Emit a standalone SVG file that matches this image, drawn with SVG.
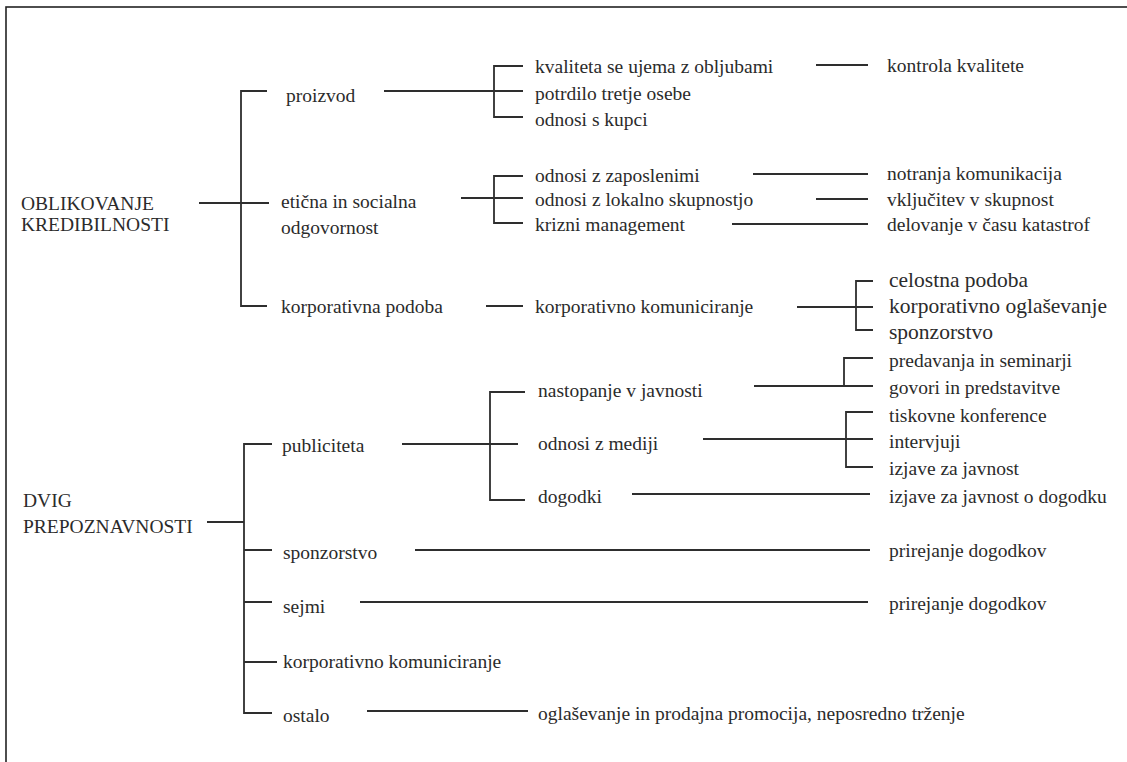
<svg xmlns="http://www.w3.org/2000/svg" width="1127" height="762" viewBox="0 0 1127 762">
<style>
text{font-family:"Liberation Serif","Times New Roman",serif;font-size:19.5px;fill:#2b2b2b}
.big{font-size:21.5px}
.ln{fill:none;stroke:#2e2e2e;stroke-width:1.8}
</style>
<rect x="0" y="0" width="1127" height="762" fill="#fff"/>
<rect x="6" y="7" width="1140" height="780" fill="none" stroke="#222" stroke-width="1.6"/>
<g id="connectors" class="ln">
<path d="M199,203H269M267,91H241V306H267"/>
<path d="M384,91H523M523,66H494V117H523"/>
<path d="M461,198H523M523,176H494V223H523"/>
<path d="M486,306H523"/>
<path d="M816,65H868M753,174H868M816,199H868M732,224H868"/>
<path d="M797,307H873M873,281H856V330H873"/>
<path d="M207,522H244M272,444H244V713H272M244,550H272M244,602H272M244,662H277"/>
<path d="M402,444H518M525,392H490V500H525"/>
<path d="M754,386H873M873,358H844V386"/>
<path d="M703,439H873M873,412H846V467H873"/>
<path d="M632,494H870M415,550H870M360,602H868M367,711H528"/>
</g>
<g id="n-oblikovanje"><text x="21" y="210">OBLIKOVANJE</text><text x="21" y="231">KREDIBILNOSTI</text></g>
<g id="n-proizvod"><text x="286" y="102">proizvod</text></g>
<g id="n-eticna"><text x="281" y="208">etična in socialna</text><text x="281" y="234">odgovornost</text></g>
<g id="n-korp-podoba"><text x="281" y="313">korporativna podoba</text></g>
<g id="n-kvaliteta"><text x="535" y="73">kvaliteta se ujema z obljubami</text></g>
<g id="n-potrdilo"><text x="535" y="100">potrdilo tretje osebe</text></g>
<g id="n-kupci"><text x="535" y="126">odnosi s kupci</text></g>
<g id="n-zaposleni"><text x="535" y="182">odnosi z zaposlenimi</text></g>
<g id="n-lokalno"><text x="535" y="206">odnosi z lokalno skupnostjo</text></g>
<g id="n-krizni"><text x="535" y="231">krizni management</text></g>
<g id="n-korp-kom1"><text x="535" y="313">korporativno komuniciranje</text></g>
<g id="n-kontrola"><text x="887" y="72">kontrola kvalitete</text></g>
<g id="n-notranja"><text x="887" y="180">notranja komunikacija</text></g>
<g id="n-vkljucitev"><text x="887" y="206">vključitev v skupnost</text></g>
<g id="n-delovanje"><text x="887" y="231">delovanje v času katastrof</text></g>
<g id="n-celostna"><text class="big" x="889" y="287">celostna podoba</text></g>
<g id="n-korp-oglas"><text class="big" x="889" y="313">korporativno oglaševanje</text></g>
<g id="n-sponz1"><text class="big" x="889" y="339">sponzorstvo</text></g>
<g id="n-dvig"><text x="23" y="507">DVIG</text><text x="23" y="533">PREPOZNAVNOSTI</text></g>
<g id="n-publiciteta"><text x="282" y="452">publiciteta</text></g>
<g id="n-sponz2"><text x="283" y="559">sponzorstvo</text></g>
<g id="n-sejmi"><text x="283" y="613">sejmi</text></g>
<g id="n-korp-kom2"><text x="283" y="668">korporativno komuniciranje</text></g>
<g id="n-ostalo"><text x="283" y="722">ostalo</text></g>
<g id="n-nastopanje"><text x="538" y="397">nastopanje v javnosti</text></g>
<g id="n-mediji"><text x="538" y="450">odnosi z mediji</text></g>
<g id="n-dogodki"><text x="538" y="503">dogodki</text></g>
<g id="n-predavanja"><text x="889" y="367">predavanja in seminarji</text></g>
<g id="n-govori"><text x="889" y="394">govori in predstavitve</text></g>
<g id="n-tiskovne"><text x="889" y="422">tiskovne konference</text></g>
<g id="n-intervjuji"><text x="889" y="448">intervjuji</text></g>
<g id="n-izjave"><text x="889" y="475">izjave za javnost</text></g>
<g id="n-izjave-dog"><text x="889" y="503">izjave za javnost o dogodku</text></g>
<g id="n-prirejanje1"><text x="889" y="557">prirejanje dogodkov</text></g>
<g id="n-prirejanje2"><text x="889" y="610">prirejanje dogodkov</text></g>
<g id="n-oglasevanje"><text x="538" y="720">oglaševanje in prodajna promocija, neposredno trženje</text></g>
</svg>
